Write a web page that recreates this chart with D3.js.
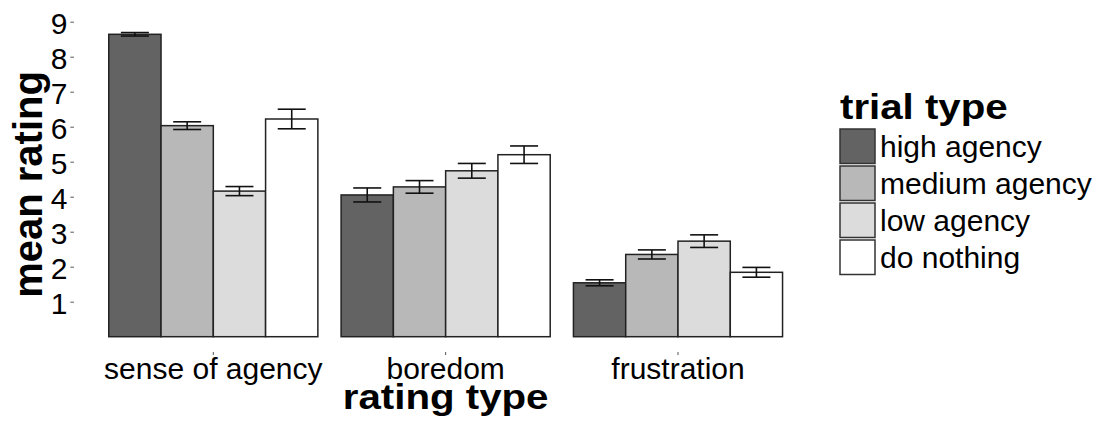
<!DOCTYPE html>
<html>
<head>
<meta charset="utf-8">
<script src="https://cdn.jsdelivr.net/npm/d3@7"></script>
<style>
  html, body { margin: 0; padding: 0; background: #fff; }
  svg { display: block; }
  text { font-family: "Liberation Sans", Arial, Helvetica, sans-serif; }
</style>
</head>
<body>
<svg id="chart" width="1101" height="427"></svg>
<script>
// ---- data ----
const categories = ["sense of agency", "boredom", "frustration"];
const trialTypes = ["high agency", "medium agency", "low agency", "do nothing"];
const highAgency   = [8.64, 4.05, 1.54];
const mediumAgency = [6.03, 4.28, 2.35];
const lowAgency    = [4.16, 4.74, 2.73];
const doNothing    = [6.22, 5.20, 1.84];
const highSE   = [0.05, 0.20, 0.085];
const mediumSE = [0.11, 0.18, 0.13];
const lowSE    = [0.13, 0.21, 0.18];
const doNothingSE = [0.28, 0.25, 0.14];
const yTicks = [1, 2, 3, 4, 5, 6, 7, 8, 9];
const fills = ["#636363", "#b8b8b8", "#dcdcdc", "#ffffff"];

const seriesValues = [highAgency, mediumAgency, lowAgency, doNothing];
const seriesSE = [highSE, mediumSE, lowSE, doNothingSE];

const rows = [];
categories.forEach((c, ci) => {
  trialTypes.forEach((t, ti) => {
    rows.push({cat: c, type: t, value: seriesValues[ti][ci], se: seriesSE[ti][ci]});
  });
});

// ---- layout ----
const svg = d3.select("#chart");
const panel = {left: 73.9, right: 817.4, top: 17, bottom: 352};

const x0 = d3.scaleBand().domain(categories)
  .range([panel.left, panel.right]).paddingInner(0.1).paddingOuter(0.15);
const x1 = d3.scaleBand().domain(trialTypes).range([0, x0.bandwidth()]);
const y = d3.scaleLinear().domain([0, 9]).range([336.7, 21.7]);
const color = d3.scaleOrdinal().domain(trialTypes).range(fills);

// bars
svg.append("g").selectAll("rect").data(rows).join("rect")
  .attr("x", d => x0(d.cat) + x1(d.type))
  .attr("y", d => y(d.value))
  .attr("width", x1.bandwidth())
  .attr("height", d => y(0) - y(d.value))
  .attr("fill", d => color(d.type))
  .attr("stroke", "#222")
  .attr("stroke-width", 1.5);

// error bars
const capHalf = 14;
const eb = svg.append("g").attr("stroke", "#111").attr("stroke-width", 1.6);
rows.forEach(d => {
  const cx = x0(d.cat) + x1(d.type) + x1.bandwidth() / 2;
  const y1 = y(d.value + d.se), y2 = y(d.value - d.se);
  eb.append("line").attr("x1", cx).attr("x2", cx).attr("y1", y1).attr("y2", y2);
  eb.append("line").attr("x1", cx - capHalf).attr("x2", cx + capHalf).attr("y1", y1).attr("y2", y1);
  eb.append("line").attr("x1", cx - capHalf).attr("x2", cx + capHalf).attr("y1", y2).attr("y2", y2);
});

// y axis
const yAxis = svg.append("g").attr("transform", `translate(${panel.left},0)`)
  .call(d3.axisLeft(y).tickValues(yTicks).tickSize(3.5).tickPadding(3).tickFormat(d3.format("d")));
yAxis.select(".domain").remove();
yAxis.selectAll(".tick line").attr("stroke", "#555").attr("stroke-width", 1);
yAxis.selectAll(".tick text").attr("font-size", 30).attr("fill", "#000")
  .attr("dy", "0.38em")
  .style("font-family", '"Liberation Sans", Arial, sans-serif');

// x axis
const xAxis = svg.append("g").attr("transform", `translate(0,${panel.bottom})`)
  .call(d3.axisBottom(x0).tickSize(3).tickPadding(3));
xAxis.select(".domain").remove();
xAxis.selectAll(".tick line").attr("stroke", "#555").attr("stroke-width", 1);
xAxis.selectAll(".tick text").attr("font-size", 30).attr("fill", "#000")
  .style("font-family", '"Liberation Sans", Arial, sans-serif');

// axis titles (bold titles are slightly wide in the reference)
const stretch = 1.15;
svg.append("text")
  .attr("transform", `translate(${(panel.left + panel.right) / 2},409) scale(${stretch},1)`)
  .attr("text-anchor", "middle").attr("font-size", 35).attr("font-weight", "bold")
  .text("rating type");
svg.append("text")
  .attr("transform", `translate(41.5,${(panel.top + panel.bottom) / 2}) rotate(-90)`)
  .attr("text-anchor", "middle").attr("font-size", 40).attr("font-weight", "bold")
  .text("mean rating");

// legend
const legend = svg.append("g");
legend.append("text")
  .attr("transform", `translate(840,118.5) scale(${stretch},1)`)
  .attr("font-size", 35).attr("font-weight", "bold").text("trial type");
const keyStep = 37;
const items = legend.selectAll("g.item").data(trialTypes).join("g")
  .attr("class", "item")
  .attr("transform", (d, i) => `translate(840,${129 + i * keyStep})`);
items.append("rect").attr("width", 35).attr("height", 34.5)
  .attr("fill", d => color(d)).attr("stroke", "#333").attr("stroke-width", 1.5);
items.append("text").attr("x", 40).attr("y", 17.25).attr("dy", "0.35em")
  .attr("font-size", 30).text(d => d);
</script>
</body>
</html>
